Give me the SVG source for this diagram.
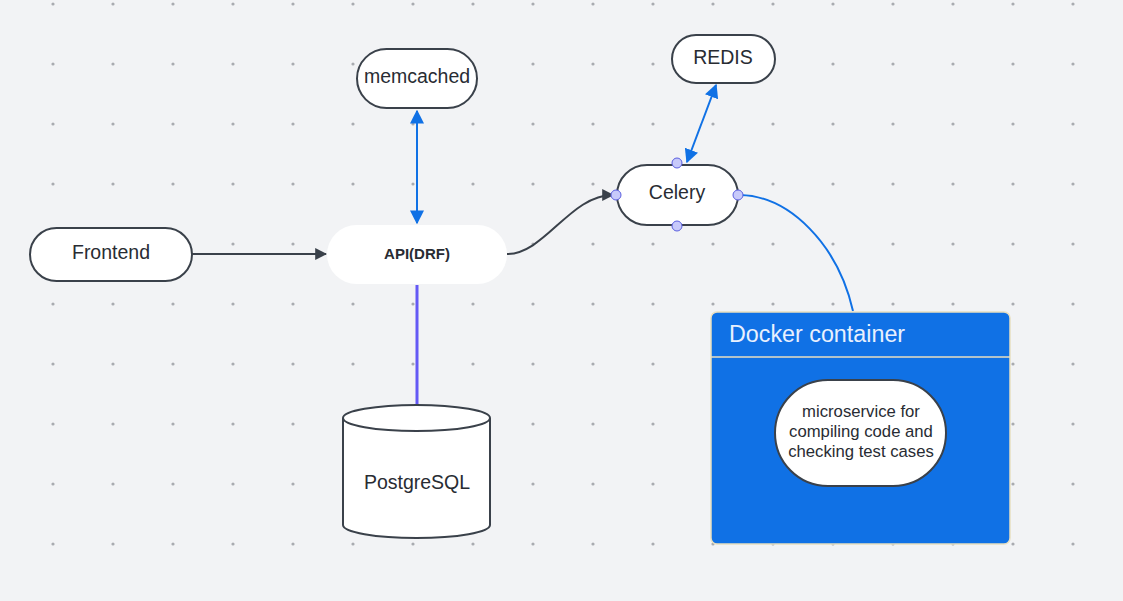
<svg xmlns="http://www.w3.org/2000/svg" width="1123" height="601" viewBox="0 0 1123 601">
<defs>
<pattern id="dots" x="23" y="-26" width="60" height="60" patternUnits="userSpaceOnUse">
<circle cx="30" cy="30" r="1.6" fill="#a9abb0"/>
</pattern>
<marker id="arrDark" viewBox="0 0 10 10" refX="9" refY="5" markerWidth="12" markerHeight="12" markerUnits="userSpaceOnUse" orient="auto-start-reverse">
<path d="M0,0 L10,5 L0,10 z" fill="#3a414a"/>
</marker>
<marker id="arrBlue" viewBox="0 0 10 10" refX="9" refY="5" markerWidth="14" markerHeight="14" markerUnits="userSpaceOnUse" orient="auto-start-reverse">
<path d="M0,0 L10,5 L0,10 z" fill="#1071e5"/>
</marker>
<style>
.node{fill:#ffffff;stroke:#3a414a;stroke-width:2}
.lbl{font-family:"Liberation Sans",Arial,sans-serif;fill:#282c33;text-anchor:middle;dominant-baseline:central}
.port{fill:#c7c9fa;stroke:#5b5fe0;stroke-width:1}
</style>
</defs>
<rect width="1123" height="601" fill="#f2f3f5"/>
<rect width="1123" height="601" fill="url(#dots)"/>

<g id="connectors" fill="none">
<line x1="192" y1="254" x2="326" y2="254" stroke="#3a414a" stroke-width="2" marker-end="url(#arrDark)"/>
<line x1="417" y1="111" x2="417" y2="223" stroke="#1071e5" stroke-width="2" marker-start="url(#arrBlue)" marker-end="url(#arrBlue)"/>
<path d="M507,254 C545,254 570,195 613,195" stroke="#3a414a" stroke-width="2" marker-end="url(#arrDark)"/>
<line x1="716" y1="85" x2="687" y2="162" stroke="#1071e5" stroke-width="2" marker-start="url(#arrBlue)" marker-end="url(#arrBlue)"/>
<path d="M740,195 C790,196 838,245 853,311" stroke="#1071e5" stroke-width="2"/>
<line x1="417" y1="285" x2="417" y2="405" stroke="#6459f5" stroke-width="3"/>
</g>

<g id="frontend">
<rect class="node" x="30" y="228" width="162" height="53" rx="26.5"/>
<text class="lbl" x="111" y="252" font-size="19.5">Frontend</text>
</g>

<g id="api">
<rect x="327" y="225" width="180" height="59" rx="29.5" fill="#ffffff"/>
<text class="lbl" x="417" y="253" font-size="15" font-weight="bold">API(DRF)</text>
</g>

<g id="memcached">
<rect class="node" x="357" y="49" width="120" height="59" rx="29.5"/>
<text class="lbl" x="417" y="76" font-size="19.5">memcached</text>
</g>

<g id="redis">
<rect class="node" x="672" y="35" width="103" height="48" rx="24"/>
<text class="lbl" x="723" y="57" font-size="19.5">REDIS</text>
</g>

<g id="celery">
<rect class="node" x="617" y="165" width="121" height="60" rx="30"/>
<text class="lbl" x="677" y="192" font-size="19.5">Celery</text>
<circle class="port" cx="677" cy="163" r="5"/>
<circle class="port" cx="616" cy="195" r="5"/>
<circle class="port" cx="738" cy="195" r="5"/>
<circle class="port" cx="677" cy="226" r="5"/>
</g>

<g id="postgresql">
<path class="node" d="M343,418 L343,525 A73.5,13 0 0 0 490,525 L490,418 A73.5,13 0 0 0 343,418 Z"/>
<path d="M343,418 A73.5,13 0 0 0 490,418" fill="none" stroke="#3a414a" stroke-width="2"/>
<text class="lbl" x="417" y="482" font-size="19.5">PostgreSQL</text>
</g>

<g id="docker">
<rect x="711" y="312" width="299" height="232" rx="6" fill="#1071e5" stroke="#e8dfc0" stroke-width="1.5"/>
<line x1="711" y1="357" x2="1010" y2="357" stroke="#e8dfc0" stroke-width="1.5"/>
<text x="729" y="342" font-family="'Liberation Sans',Arial,sans-serif" font-size="23.3" fill="#e8f0fe">Docker container</text>
</g>

<g id="microservice">
<rect class="node" x="775" y="380" width="171" height="106" rx="53"/>
<text class="lbl" font-size="16.7"><tspan x="861" y="411">microservice for</tspan><tspan x="861" y="431">compiling code and</tspan><tspan x="861" y="451">checking test cases</tspan></text>
</g>
</svg>
